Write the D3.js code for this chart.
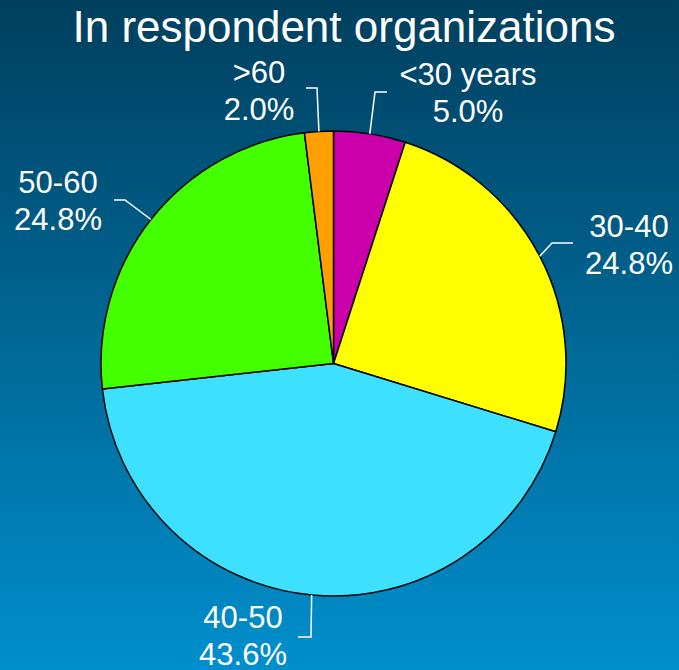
<!DOCTYPE html>
<html>
<head>
<meta charset="utf-8">
<script src="https://cdn.jsdelivr.net/npm/d3@7"></script>
<style>
  html, body { margin: 0; padding: 0; }
  body { width: 679px; height: 670px; overflow: hidden; }
  text { font-family: "Liberation Sans", Arial, sans-serif; fill: #fff; }
</style>
</head>
<body>
<div id="chart"></div>
<script>
// chart data
var titleText = "In respondent organizations";
var categories = ["<30 years", "30-40", "40-50", "50-60", ">60"];
var shares = [5.0, 24.8, 43.6, 24.8, 2.0];
var sliceColors = ["#cc00aa", "#ffff00", "#3de1ff", "#44ff00", "#ff9f00"];

var width = 679, height = 670;
var cx = 333.5, cy = 363.5, radius = 232.5;

// where each label sits: elbow of leader line, end of leader line, label centre
var labelLayout = [
  { elbow: [375, 92],  end: [387, 92],  x: 468, y: 85 },
  { elbow: [552, 243], end: [573, 243], x: 629, y: 237 },
  { elbow: [311, 637], end: [298, 637], x: 243, y: 628 },
  { elbow: [125, 200], end: [114, 200], x: 58,  y: 193 },
  { elbow: [317, 88],  end: [306, 88],  x: 259, y: 83 }
];

var svg = d3.select("#chart")
  .append("svg")
  .attr("width", width)
  .attr("height", height);

// background gradient
var grad = svg.append("defs")
  .append("linearGradient")
  .attr("id", "bg")
  .attr("x1", 0).attr("y1", 0)
  .attr("x2", 0).attr("y2", 1);
grad.append("stop").attr("offset", "0%").attr("stop-color", "#003f5e");
grad.append("stop").attr("offset", "100%").attr("stop-color", "#008fcd");

svg.append("rect")
  .attr("width", width)
  .attr("height", height)
  .attr("fill", "url(#bg)");

svg.append("text")
  .attr("x", 344)
  .attr("y", 42)
  .attr("text-anchor", "middle")
  .style("font-size", "44px")
  .text(titleText);

var data = categories.map(function (c, i) {
  return { label: c, value: shares[i], color: sliceColors[i], layout: labelLayout[i] };
});

var pie = d3.pie()
  .sort(null)
  .value(function (d) { return d.value; });

var arc = d3.arc()
  .innerRadius(0)
  .outerRadius(radius);

var g = svg.append("g")
  .attr("transform", "translate(" + cx + "," + cy + ")");

var arcs = pie(data);

g.selectAll("path")
  .data(arcs)
  .enter()
  .append("path")
  .attr("d", arc)
  .attr("fill", function (d) { return d.data.color; })
  .attr("stroke", "#000")
  .attr("stroke-width", 1.5)
  .attr("stroke-linejoin", "round");

// leader lines from the slice's outer edge
svg.selectAll("polyline.leader")
  .data(arcs)
  .enter()
  .append("polyline")
  .attr("class", "leader")
  .attr("fill", "none")
  .attr("stroke", "#fff")
  .attr("stroke-width", 1.5)
  .attr("points", function (d) {
    var a = (d.startAngle + d.endAngle) / 2;
    var sx = cx + radius * Math.sin(a);
    var sy = cy - radius * Math.cos(a);
    var L = d.data.layout;
    return [[sx, sy], L.elbow, L.end].map(function (p) { return p.join(","); }).join(" ");
  });

// labels: category and percentage on two lines
var labels = svg.selectAll("text.lbl")
  .data(arcs)
  .enter()
  .append("text")
  .attr("class", "lbl")
  .attr("text-anchor", "middle")
  .style("font-size", "31px");

labels.append("tspan")
  .attr("x", function (d) { return d.data.layout.x; })
  .attr("y", function (d) { return d.data.layout.y; })
  .text(function (d) { return d.data.label; });

labels.append("tspan")
  .attr("x", function (d) { return d.data.layout.x; })
  .attr("y", function (d) { return d.data.layout.y + 37; })
  .text(function (d) { return d3.format(".1f")(d.data.value) + "%"; });
</script>
</body>
</html>
